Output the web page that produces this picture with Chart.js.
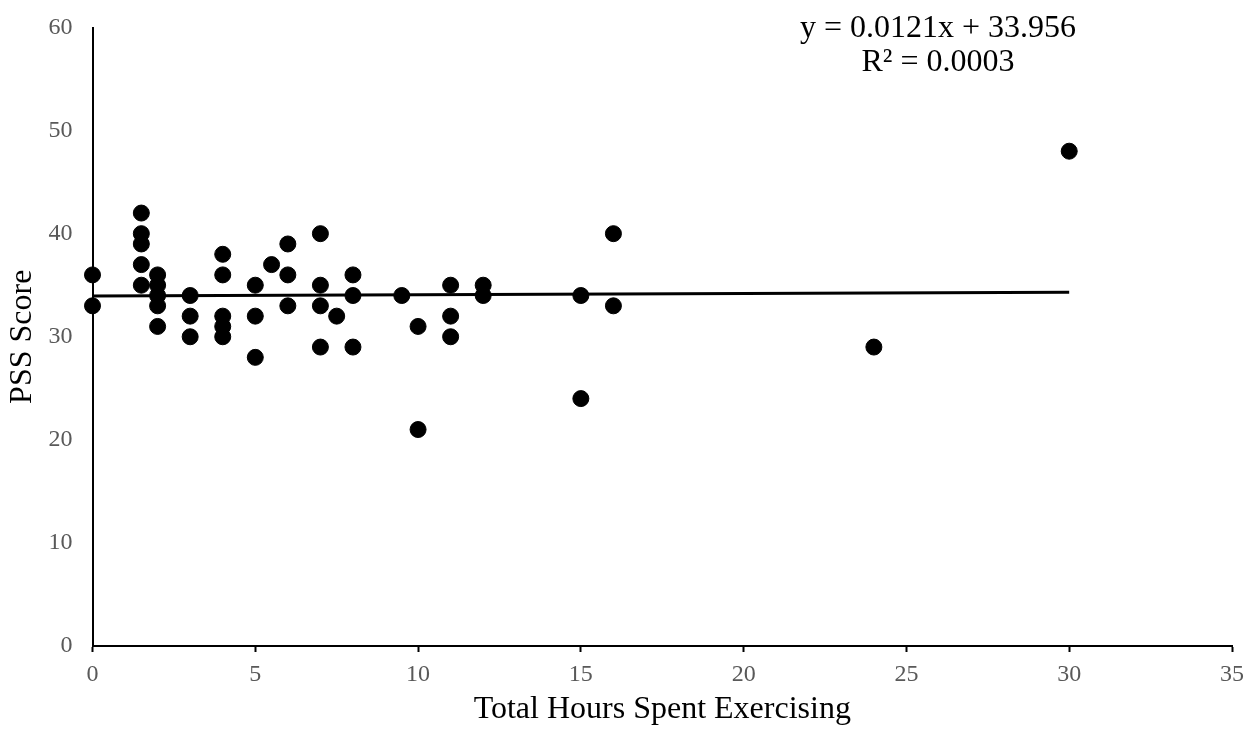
<!DOCTYPE html>
<html>
<head>
<meta charset="utf-8">
<script src="https://cdn.jsdelivr.net/npm/chart.js@4/dist/chart.umd.min.js"></script>
<style>
  html, body { margin: 0; padding: 0; background: #fff; }
  #wrap { width: 1247px; height: 732px; position: relative; }
</style>
</head>
<body>
<div id="wrap"><canvas id="chart"></canvas></div>
<script>
  // hours spent exercising vs PSS score
  const hours = [0, 0, 1.5, 1.5, 1.5, 1.5, 1.5, 2, 2, 2, 2, 2, 3, 3, 3, 4, 4, 4, 4, 4, 5, 5, 5, 5.5, 6, 6, 6, 7, 7, 7, 7, 7.5, 8, 8, 8, 9.5, 10, 10, 11, 11, 11, 12, 12, 15, 15, 16, 16, 24, 30];
  const pss   = [36, 33, 42, 40, 39, 37, 35, 36, 35, 34, 33, 31, 34, 32, 30, 38, 36, 32, 31, 30, 35, 32, 28, 37, 39, 36, 33, 40, 35, 33, 29, 32, 36, 34, 29, 34, 31, 21, 35, 32, 30, 35, 34, 34, 24, 40, 33, 29, 48];
  const xTicks = [0, 5, 10, 15, 20, 25, 30, 35];
  const yTicks = [0, 10, 20, 30, 40, 50, 60];
  const slope = 0.0121, intercept = 33.956;
  const trendX = [0, 30];
  const eqLines = ["y = 0.0121x + 33.956", "R\u00B2 = 0.0003"];

  const FONT = "'Liberation Serif', 'Times New Roman', serif";

  const points = hours.map((h, i) => ({ x: h, y: pss[i] }));
  const trend = trendX.map(x => ({ x, y: slope * x + intercept }));

  const eqPlugin = {
    id: "eqText",
    afterDraw(chart) {
      const ctx = chart.ctx;
      ctx.save();
      ctx.fillStyle = "#000";
      ctx.font = "32px " + FONT;
      ctx.textAlign = "center";
      ctx.textBaseline = "middle";
      eqLines.forEach((t, i) => ctx.fillText(t, 938, 29 + i * 34));
      ctx.restore();
    }
  };

  new Chart(document.getElementById("chart"), {
    type: "scatter",
    data: {
      datasets: [
        { label: "PSS", data: points, backgroundColor: "#000", borderColor: "#000", pointRadius: 8, pointHoverRadius: 8, clip: false, order: 1 },
        { type: "line", label: "Trend", data: trend, borderColor: "#000", borderWidth: 3, pointRadius: 0, fill: false, clip: false, order: 0 },
      ]
    },
    options: {
      responsive: true, maintainAspectRatio: false, animation: false,
      layout: { autoPadding: false, padding: { top: 27.5, right: 15, bottom: 3, left: 0 } },
      plugins: { legend: { display: false }, tooltip: { enabled: false } },
      scales: {
        x: {
          type: "linear", min: 0, max: 35,
          afterBuildTicks: s => { s.ticks = xTicks.map(v => ({ value: v })); },
          afterFit: s => { s.height = 83; s.paddingLeft = 0; s.paddingRight = 0; },
          grid: { display: true, drawOnChartArea: false, drawTicks: true, tickLength: 6, tickColor: "#000", tickWidth: 2 },
          border: { display: true, color: "#000", width: 2 },
          ticks: { color: "#595959", font: { family: FONT, size: 24 }, padding: 8, maxRotation: 0 },
          title: { display: true, text: "Total Hours Spent Exercising", color: "#000", font: { family: FONT, size: 32 }, padding: { top: 2, bottom: 0 } }
        },
        y: {
          min: 0, max: 60,
          afterBuildTicks: s => { s.ticks = yTicks.map(v => ({ value: v })); },
          afterFit: s => { s.width = 92.5; },
          grid: { display: false },
          border: { display: true, color: "#000", width: 2 },
          ticks: { color: "#595959", font: { family: FONT, size: 24 }, padding: 12 },
          title: { display: true, text: "PSS Score", color: "#000", font: { family: FONT, size: 32 }, padding: { top: 3, bottom: 4 } }
        }
      }
    },
    plugins: [eqPlugin]
  });
</script>
</body>
</html>
